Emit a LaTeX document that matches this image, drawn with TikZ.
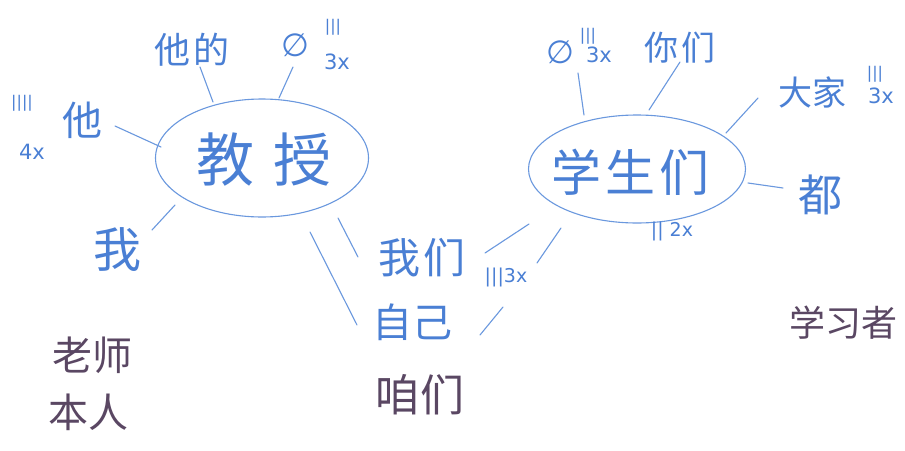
\documentclass[tikz,border=0pt]{standalone}
\usepackage{fontspec}
\setmainfont{DejaVu Sans}
\newfontfamily\cjk{Noto Sans CJK SC}
\usetikzlibrary{shapes.geometric}
\definecolor{pen}{HTML}{4A7FD4}
\definecolor{penline}{HTML}{6A98DE}
\definecolor{ink}{HTML}{5A4763}
\tikzset{
  x=1pt,y=-1pt,
  bubble/.style={ellipse,draw=penline,line width=1.1pt,inner sep=0pt},
  word/.style={text=pen,inner sep=0pt,font=\cjk},
  dark/.style={text=ink,inner sep=0pt,font=\cjk},
  tally/.style={text=pen,inner sep=0pt},
  link/.style={draw=penline,line width=1.1pt,line cap=round}
}
\newcommand{\fs}[1]{\fontsize{#1}{#1}\selectfont}
\begin{document}
\begin{tikzpicture}
\useasboundingbox[fill=white] (0,0) rectangle (905,450);
% left bubble
\node[bubble,minimum width=213,minimum height=118] (prof) at (262,158) {};
\node[word] (proft) at (264,160) {\fs{58}教\hspace{20pt}授};
\node[word] (tade) at (192,50) {\fs{36}他\hspace{4pt}的};
\node[tally] (empty1) at (295,45) {\fs{32}∅};
\node[tally] (t1) at (333,27) {\fs{16}|||};
\node[tally] (n1) at (337,62) {\fs{21}3x};
\node[word] (ta) at (82,120) {\fs{40}他};
\node[tally] (t2) at (22,103) {\fs{16}||||};
\node[tally] (n2) at (32,152) {\fs{21}4x};
\node[word] (wo) at (117,250) {\fs{48}我};
\node[word] (women) at (422,258) {\fs{42}我\hspace{4pt}们};
\node[word] (ziji) at (412,322) {\fs{40}自己};
\node[dark] (zanmen) at (420,395) {\fs{44}咱\hspace{2pt}们};
\node[dark] (laoshi) at (92,355) {\fs{40}老师};
\node[dark] (benren) at (88,412) {\fs{40}本人};
\node[dark] (xuexizhe) at (843,323) {\fs{36}学习者};
% right bubble
\node[bubble,minimum width=217,minimum height=108] (stud) at (637,169) {};
\node[word] (studt) at (630,172) {\fs{50}学\hspace{4pt}生\hspace{4pt}们};
\node[tally] (empty2) at (560,52) {\fs{32}∅};
\node[tally] (t3) at (588,36) {\fs{16}|||};
\node[tally] (n3) at (599,55) {\fs{21}3x};
\node[word] (nimen) at (680,48) {\fs{34}你\hspace{4pt}们};
\node[word] (dajia) at (812,92) {\fs{34}大家};
\node[tally] (t4) at (875,74) {\fs{16}|||};
\node[tally] (n4) at (881,96) {\fs{21}3x};
\node[word] (dou) at (820,195) {\fs{44}都};
\node[tally] (n5) at (672,231) {\fs{19}|| 2x};
\node[tally] (n6) at (506,277) {\fs{19}|||3x};
% connector ends
\coordinate (a1) at (200,67);  \coordinate (b1) at (213,102);
\coordinate (a2) at (293,67);  \coordinate (b2) at (279,98);
\coordinate (a3) at (115,126); \coordinate (b3) at (161,147);
\coordinate (a4) at (152,230); \coordinate (b4) at (175,205);
\coordinate (a5) at (338,218); \coordinate (b5) at (358,257);
\coordinate (a6) at (310,232); \coordinate (b6) at (357,325);
\coordinate (a7) at (578,73);  \coordinate (b7) at (584,115);
\coordinate (a8) at (680,62);  \coordinate (b8) at (649,110);
\coordinate (a9) at (758,98);  \coordinate (b9) at (726,133);
\coordinate (a10) at (748,183); \coordinate (b10) at (783,188);
\coordinate (a11) at (485,253); \coordinate (b11) at (529,224);
\coordinate (a12) at (537,263); \coordinate (b12) at (561,228);
\coordinate (a13) at (480,335); \coordinate (b13) at (503,307);
\foreach \i in {1,...,13} {\draw[link] (a\i) -- (b\i);}
\end{tikzpicture}
\end{document}
